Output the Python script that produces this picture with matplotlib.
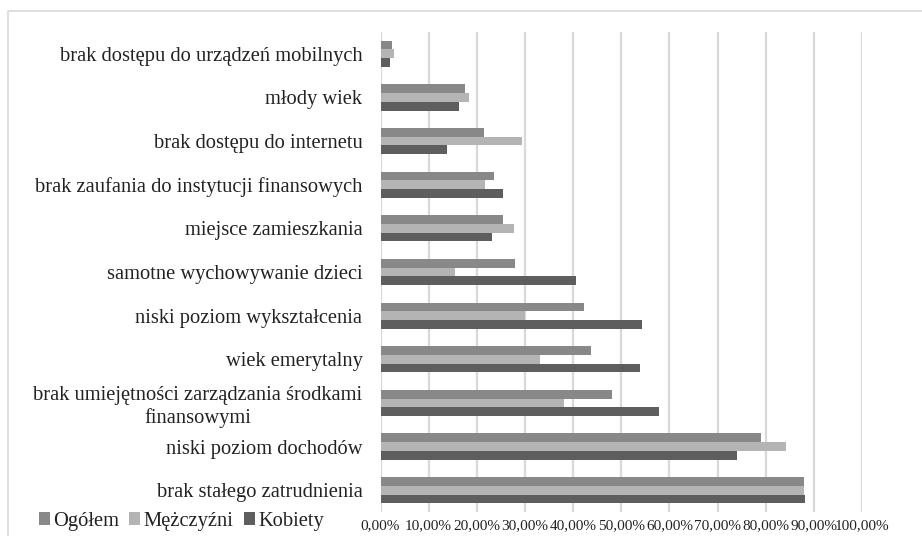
import matplotlib.pyplot as plt
from matplotlib.patches import Rectangle
from matplotlib.ticker import FuncFormatter, MultipleLocator

plt.rcParams['font.family'] = ['Liberation Serif', 'DejaVu Serif']

# Categories listed from top to bottom
categories = [
    'brak dostępu do urządzeń mobilnych',
    'młody wiek',
    'brak dostępu do internetu',
    'brak zaufania do instytucji finansowych',
    'miejsce zamieszkania',
    'samotne wychowywanie dzieci',
    'niski poziom wykształcenia',
    'wiek emerytalny',
    'brak umiejętności zarządzania środkami\nfinansowymi',
    'niski poziom dochodów',
    'brak stałego zatrudnienia',
]

ogolem = [0.023, 0.175, 0.214, 0.236, 0.254, 0.280, 0.423, 0.437, 0.481, 0.790, 0.880]
mezczyzni = [0.028, 0.183, 0.293, 0.218, 0.277, 0.154, 0.300, 0.332, 0.382, 0.842, 0.880]
kobiety = [0.020, 0.164, 0.139, 0.254, 0.232, 0.405, 0.544, 0.539, 0.578, 0.740, 0.882]

series = [('Ogółem', ogolem, '#888888'),
          ('Mężczyźni', mezczyzni, '#b4b4b4'),
          ('Kobiety', kobiety, '#5e5e5e')]

fig = plt.figure(figsize=(9.22, 5.36), dpi=100)
ax = fig.add_axes([380.5 / 922, 1 - 512 / 536, (862 - 380.5) / 922, 480 / 536])

h = 0.2
ypos = range(len(categories))
for k, (name, vals, col) in enumerate(series):
    ax.barh([y + (k - 1) * h for y in ypos], vals, height=h, color=col,
            label=name, zorder=3)

ax.set_xlim(0, 1.0)
ax.set_ylim(len(categories) - 0.5, -0.5)
ax.xaxis.set_major_locator(MultipleLocator(0.1))
ax.xaxis.set_major_formatter(FuncFormatter(lambda v, p: f'{v * 100:.2f}%'.replace('.', ',')))
ax.grid(axis='x', color='#d9d9d9', linewidth=1.6, zorder=0)

ax.set_yticks(list(ypos))
ax.set_yticklabels(categories, fontsize=14.8, multialignment='center')
ax.tick_params(axis='y', length=0, pad=13, colors='#222222')
ax.tick_params(axis='x', length=0, pad=5, labelsize=11, colors='#222222')
for s in ax.spines.values():
    s.set_visible(False)

# outer chart border
fig.patches.append(Rectangle((8 / 922, -0.1), 1.0, 1.1 - 11 / 536,
                             transform=fig.transFigure, fill=False,
                             edgecolor='#d9d9d9', linewidth=1.2))

fig.legend(loc='lower left', bbox_to_anchor=(20 / 922, -0.025), ncol=3,
           frameon=False, fontsize=14.8, handlelength=0.55, handleheight=0.55,
           handletextpad=0.15, columnspacing=0.5, labelcolor='#222222')

fig.savefig('out.png', dpi=100)
